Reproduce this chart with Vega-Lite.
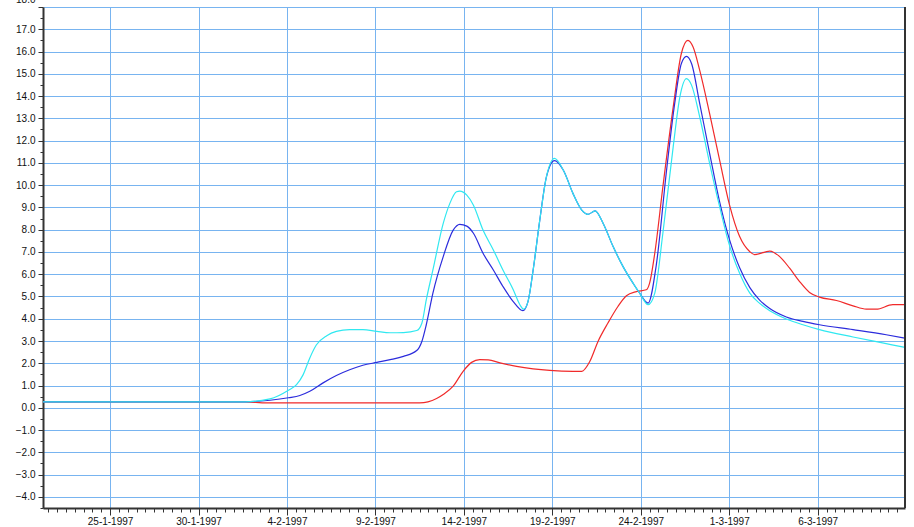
{
"$schema":"https://vega.github.io/schema/vega-lite/v6.json",
"width":862,"height":501,
"autosize":{"type":"none"},
"padding":{"left":43,"top":7,"right":9,"bottom":19},
"background":"white",
"config":{"view":{"stroke":null},"axis":{"labelFont":"Liberation Sans","labelFontSize":10,"labelColor":"#111111","titleFont":"Liberation Sans"}},
"data":{"values":[
{"s":"red","t":"1997-01-21T05:00:00Z","v":0.27},
{"s":"red","t":"1997-02-01T15:00:00Z","v":0.27},
{"s":"red","t":"1997-02-02T20:30:00Z","v":0.22},
{"s":"red","t":"1997-02-11T12:00:00Z","v":0.22},
{"s":"red","t":"1997-02-12T11:00:00Z","v":0.42},
{"s":"red","t":"1997-02-12T20:00:00Z","v":0.6},
{"s":"red","t":"1997-02-13T09:30:00Z","v":0.97},
{"s":"red","t":"1997-02-13T23:00:00Z","v":1.64},
{"s":"red","t":"1997-02-14T10:30:00Z","v":2.04},
{"s":"red","t":"1997-02-14T21:30:00Z","v":2.16},
{"s":"red","t":"1997-02-15T09:00:00Z","v":2.15},
{"s":"red","t":"1997-02-16T01:00:00Z","v":2.02},
{"s":"red","t":"1997-02-16T23:30:00Z","v":1.86},
{"s":"red","t":"1997-02-17T22:00:00Z","v":1.75},
{"s":"red","t":"1997-02-18T20:30:00Z","v":1.68},
{"s":"red","t":"1997-02-20T04:00:00Z","v":1.64},
{"s":"red","t":"1997-02-20T16:00:00Z","v":1.64},
{"s":"red","t":"1997-02-21T03:00:00Z","v":2.09},
{"s":"red","t":"1997-02-21T14:00:00Z","v":2.98},
{"s":"red","t":"1997-02-22T03:30:00Z","v":3.81},
{"s":"red","t":"1997-02-22T17:00:00Z","v":4.55},
{"s":"red","t":"1997-02-23T04:30:00Z","v":5.03},
{"s":"red","t":"1997-02-23T18:00:00Z","v":5.22},
{"s":"red","t":"1997-02-24T07:30:00Z","v":5.3},
{"s":"red","t":"1997-02-24T12:00:00Z","v":5.6},
{"s":"red","t":"1997-02-24T19:00:00Z","v":6.94},
{"s":"red","t":"1997-02-25T06:00:00Z","v":9.92},
{"s":"red","t":"1997-02-25T20:00:00Z","v":13.5},
{"s":"red","t":"1997-02-26T07:00:00Z","v":15.9},
{"s":"red","t":"1997-02-26T16:00:00Z","v":16.5},
{"s":"red","t":"1997-02-26T23:00:00Z","v":16.2},
{"s":"red","t":"1997-02-27T08:00:00Z","v":15.15},
{"s":"red","t":"1997-02-27T21:30:00Z","v":13.2},
{"s":"red","t":"1997-02-28T11:00:00Z","v":11.12},
{"s":"red","t":"1997-03-01T00:30:00Z","v":9.1},
{"s":"red","t":"1997-03-01T14:00:00Z","v":7.7},
{"s":"red","t":"1997-03-02T04:00:00Z","v":7.01},
{"s":"red","t":"1997-03-02T10:30:00Z","v":6.88},
{"s":"red","t":"1997-03-03T07:00:00Z","v":7.04},
{"s":"red","t":"1997-03-03T20:30:00Z","v":6.79},
{"s":"red","t":"1997-03-04T10:00:00Z","v":6.27},
{"s":"red","t":"1997-03-04T23:30:00Z","v":5.67},
{"s":"red","t":"1997-03-05T13:00:00Z","v":5.18},
{"s":"red","t":"1997-03-06T02:30:00Z","v":4.97},
{"s":"red","t":"1997-03-07T01:30:00Z","v":4.82},
{"s":"red","t":"1997-03-08T00:00:00Z","v":4.58},
{"s":"red","t":"1997-03-08T18:00:00Z","v":4.43},
{"s":"red","t":"1997-03-09T07:30:00Z","v":4.43},
{"s":"red","t":"1997-03-10T06:00:00Z","v":4.63},
{"s":"red","t":"1997-03-10T22:30:00Z","v":4.63},
{"s":"blue","t":"1997-01-21T05:00:00Z","v":0.27},
{"s":"blue","t":"1997-02-01T15:00:00Z","v":0.27},
{"s":"blue","t":"1997-02-03T01:00:00Z","v":0.34},
{"s":"blue","t":"1997-02-04T02:00:00Z","v":0.45},
{"s":"blue","t":"1997-02-04T17:30:00Z","v":0.55},
{"s":"blue","t":"1997-02-05T07:00:00Z","v":0.74},
{"s":"blue","t":"1997-02-06T01:00:00Z","v":1.12},
{"s":"blue","t":"1997-02-06T19:00:00Z","v":1.45},
{"s":"blue","t":"1997-02-07T13:00:00Z","v":1.71},
{"s":"blue","t":"1997-02-08T07:00:00Z","v":1.91},
{"s":"blue","t":"1997-02-09T02:00:00Z","v":2.04},
{"s":"blue","t":"1997-02-09T20:00:00Z","v":2.16},
{"s":"blue","t":"1997-02-10T14:00:00Z","v":2.31},
{"s":"blue","t":"1997-02-11T08:00:00Z","v":2.57},
{"s":"blue","t":"1997-02-11T15:00:00Z","v":2.98},
{"s":"blue","t":"1997-02-11T21:00:00Z","v":3.73},
{"s":"blue","t":"1997-02-12T06:00:00Z","v":5.15},
{"s":"blue","t":"1997-02-12T20:00:00Z","v":6.79},
{"s":"blue","t":"1997-02-13T09:30:00Z","v":7.98},
{"s":"blue","t":"1997-02-13T18:30:00Z","v":8.24},
{"s":"blue","t":"1997-02-14T04:00:00Z","v":8.16},
{"s":"blue","t":"1997-02-14T13:00:00Z","v":7.84},
{"s":"blue","t":"1997-02-15T02:00:00Z","v":6.94},
{"s":"blue","t":"1997-02-15T16:00:00Z","v":6.19},
{"s":"blue","t":"1997-02-16T05:00:00Z","v":5.45},
{"s":"blue","t":"1997-02-16T19:00:00Z","v":4.77},
{"s":"blue","t":"1997-02-17T08:00:00Z","v":4.36},
{"s":"blue","t":"1997-02-17T15:00:00Z","v":4.77},
{"s":"blue","t":"1997-02-17T22:00:00Z","v":6.19},
{"s":"blue","t":"1997-02-18T07:00:00Z","v":8.43},
{"s":"blue","t":"1997-02-18T16:00:00Z","v":10.37},
{"s":"blue","t":"1997-02-19T03:00:00Z","v":11.1},
{"s":"blue","t":"1997-02-19T15:00:00Z","v":10.67},
{"s":"blue","t":"1997-02-20T04:00:00Z","v":9.63},
{"s":"blue","t":"1997-02-20T16:00:00Z","v":8.88},
{"s":"blue","t":"1997-02-21T00:30:00Z","v":8.69},
{"s":"blue","t":"1997-02-21T10:00:00Z","v":8.84},
{"s":"blue","t":"1997-02-21T21:00:00Z","v":8.28},
{"s":"blue","t":"1997-02-22T10:30:00Z","v":7.24},
{"s":"blue","t":"1997-02-23T00:00:00Z","v":6.34},
{"s":"blue","t":"1997-02-23T13:30:00Z","v":5.6},
{"s":"blue","t":"1997-02-23T22:30:00Z","v":5.15},
{"s":"blue","t":"1997-02-24T10:00:00Z","v":4.7},
{"s":"blue","t":"1997-02-24T21:00:00Z","v":6.4},
{"s":"blue","t":"1997-02-25T11:00:00Z","v":10.67},
{"s":"blue","t":"1997-02-25T22:00:00Z","v":13.66},
{"s":"blue","t":"1997-02-26T07:00:00Z","v":15.45},
{"s":"blue","t":"1997-02-26T14:00:00Z","v":15.78},
{"s":"blue","t":"1997-02-26T21:00:00Z","v":15.45},
{"s":"blue","t":"1997-02-27T08:00:00Z","v":13.66},
{"s":"blue","t":"1997-02-27T21:30:00Z","v":11.42},
{"s":"blue","t":"1997-02-28T11:00:00Z","v":9.25},
{"s":"blue","t":"1997-03-01T00:30:00Z","v":7.54},
{"s":"blue","t":"1997-03-01T14:00:00Z","v":6.3},
{"s":"blue","t":"1997-03-02T04:00:00Z","v":5.4},
{"s":"blue","t":"1997-03-02T17:00:00Z","v":4.85},
{"s":"blue","t":"1997-03-03T07:00:00Z","v":4.46},
{"s":"blue","t":"1997-03-04T05:30:00Z","v":4.08},
{"s":"blue","t":"1997-03-05T04:00:00Z","v":3.88},
{"s":"blue","t":"1997-03-06T02:30:00Z","v":3.73},
{"s":"blue","t":"1997-03-08T00:00:00Z","v":3.51},
{"s":"blue","t":"1997-03-09T21:00:00Z","v":3.28},
{"s":"blue","t":"1997-03-10T22:30:00Z","v":3.13},
{"s":"cyan","t":"1997-01-21T05:00:00Z","v":0.27},
{"s":"cyan","t":"1997-02-01T15:00:00Z","v":0.27},
{"s":"cyan","t":"1997-02-03T01:00:00Z","v":0.4},
{"s":"cyan","t":"1997-02-04T02:00:00Z","v":0.79},
{"s":"cyan","t":"1997-02-04T13:00:00Z","v":1.04},
{"s":"cyan","t":"1997-02-04T22:00:00Z","v":1.49},
{"s":"cyan","t":"1997-02-05T07:00:00Z","v":2.24},
{"s":"cyan","t":"1997-02-05T16:00:00Z","v":2.83},
{"s":"cyan","t":"1997-02-06T06:00:00Z","v":3.24},
{"s":"cyan","t":"1997-02-06T19:00:00Z","v":3.43},
{"s":"cyan","t":"1997-02-07T13:00:00Z","v":3.51},
{"s":"cyan","t":"1997-02-08T07:00:00Z","v":3.51},
{"s":"cyan","t":"1997-02-09T02:00:00Z","v":3.43},
{"s":"cyan","t":"1997-02-09T20:00:00Z","v":3.37},
{"s":"cyan","t":"1997-02-10T14:00:00Z","v":3.38},
{"s":"cyan","t":"1997-02-11T08:00:00Z","v":3.47},
{"s":"cyan","t":"1997-02-11T15:00:00Z","v":3.8},
{"s":"cyan","t":"1997-02-11T21:00:00Z","v":4.85},
{"s":"cyan","t":"1997-02-12T06:00:00Z","v":6.19},
{"s":"cyan","t":"1997-02-12T20:00:00Z","v":8.28},
{"s":"cyan","t":"1997-02-13T05:00:00Z","v":9.18},
{"s":"cyan","t":"1997-02-13T14:00:00Z","v":9.7},
{"s":"cyan","t":"1997-02-13T18:30:00Z","v":9.73},
{"s":"cyan","t":"1997-02-14T04:00:00Z","v":9.55},
{"s":"cyan","t":"1997-02-14T13:00:00Z","v":9.1},
{"s":"cyan","t":"1997-02-15T02:00:00Z","v":7.98},
{"s":"cyan","t":"1997-02-15T16:00:00Z","v":7.09},
{"s":"cyan","t":"1997-02-16T05:00:00Z","v":6.19},
{"s":"cyan","t":"1997-02-16T19:00:00Z","v":5.3},
{"s":"cyan","t":"1997-02-17T04:00:00Z","v":4.63},
{"s":"cyan","t":"1997-02-17T09:00:00Z","v":4.43},
{"s":"cyan","t":"1997-02-17T15:00:00Z","v":4.77},
{"s":"cyan","t":"1997-02-17T22:00:00Z","v":6.19},
{"s":"cyan","t":"1997-02-18T07:00:00Z","v":8.43},
{"s":"cyan","t":"1997-02-18T16:00:00Z","v":10.37},
{"s":"cyan","t":"1997-02-19T03:00:00Z","v":11.2},
{"s":"cyan","t":"1997-02-19T15:00:00Z","v":10.67},
{"s":"cyan","t":"1997-02-20T04:00:00Z","v":9.63},
{"s":"cyan","t":"1997-02-20T16:00:00Z","v":8.88},
{"s":"cyan","t":"1997-02-21T00:30:00Z","v":8.69},
{"s":"cyan","t":"1997-02-21T10:00:00Z","v":8.84},
{"s":"cyan","t":"1997-02-21T21:00:00Z","v":8.28},
{"s":"cyan","t":"1997-02-22T10:30:00Z","v":7.24},
{"s":"cyan","t":"1997-02-23T00:00:00Z","v":6.34},
{"s":"cyan","t":"1997-02-23T13:30:00Z","v":5.6},
{"s":"cyan","t":"1997-02-23T22:30:00Z","v":5.15},
{"s":"cyan","t":"1997-02-24T10:00:00Z","v":4.63},
{"s":"cyan","t":"1997-02-24T19:00:00Z","v":5.15},
{"s":"cyan","t":"1997-02-25T06:00:00Z","v":7.84},
{"s":"cyan","t":"1997-02-25T20:00:00Z","v":11.72},
{"s":"cyan","t":"1997-02-26T05:00:00Z","v":13.95},
{"s":"cyan","t":"1997-02-26T14:00:00Z","v":14.78},
{"s":"cyan","t":"1997-02-26T21:00:00Z","v":14.48},
{"s":"cyan","t":"1997-02-27T08:00:00Z","v":13.06},
{"s":"cyan","t":"1997-02-27T21:30:00Z","v":10.97},
{"s":"cyan","t":"1997-02-28T11:00:00Z","v":9.03},
{"s":"cyan","t":"1997-03-01T00:30:00Z","v":7.28},
{"s":"cyan","t":"1997-03-01T14:00:00Z","v":6.05},
{"s":"cyan","t":"1997-03-02T04:00:00Z","v":5.15},
{"s":"cyan","t":"1997-03-02T17:00:00Z","v":4.7},
{"s":"cyan","t":"1997-03-03T07:00:00Z","v":4.36},
{"s":"cyan","t":"1997-03-04T05:30:00Z","v":3.99},
{"s":"cyan","t":"1997-03-05T04:00:00Z","v":3.73},
{"s":"cyan","t":"1997-03-06T02:30:00Z","v":3.51},
{"s":"cyan","t":"1997-03-08T00:00:00Z","v":3.18},
{"s":"cyan","t":"1997-03-09T21:00:00Z","v":2.88},
{"s":"cyan","t":"1997-03-10T22:30:00Z","v":2.71}
]},
"layer":[
{"mark":{"type":"line","interpolate":"monotone","strokeWidth":1.2},
 "encoding":{
  "x":{"field":"t","type":"temporal","scale":{"type":"utc","domain":[{"year":1997,"month":1,"date":21,"hours":5,"utc":true},{"year":1997,"month":3,"date":10,"hours":22,"minutes":30,"utc":true}]},
   "axis":{"orient":"bottom","title":null,"format":"%-d-%-m-%Y","values":[
     {"year":1997,"month":1,"date":25,"utc":true},{"year":1997,"month":1,"date":30,"utc":true},{"year":1997,"month":2,"date":4,"utc":true},
     {"year":1997,"month":2,"date":9,"utc":true},{"year":1997,"month":2,"date":14,"utc":true},{"year":1997,"month":2,"date":19,"utc":true},
     {"year":1997,"month":2,"date":24,"utc":true},{"year":1997,"month":3,"date":1,"utc":true},{"year":1997,"month":3,"date":6,"utc":true}],
    "tickSize":7,"tickColor":"#333333","domainColor":"#333333","domainWidth":2,"labelPadding":1,"labelFlush":false,"labelOverlap":false,
    "grid":true,"gridColor":"#78b4f0","gridWidth":1}},
  "y":{"field":"v","type":"quantitative","scale":{"domain":[-4.5,18],"nice":false,"zero":false},
   "axis":{"orient":"left","title":null,"format":".1f","values":[-4,-3,-2,-1,0,1,2,3,4,5,6,7,8,9,10,11,12,13,14,15,16,17,18],
    "tickSize":5,"tickColor":"#333333","domainColor":"#333333","domainWidth":2,"labelPadding":3,"labelFlush":false,"labelOverlap":false,
    "labelOffset":{"condition":{"test":"datum.value == 18","value":-8},"value":0},
    "grid":true,"gridColor":"#78b4f0","gridWidth":1}},
  "color":{"field":"s","type":"nominal","scale":{"domain":["red","blue","cyan"],"range":["#f02a2a","#2c2cdc","#30e8f0"]},"legend":null}
 }},
{"mark":{"type":"line","opacity":0},
 "encoding":{
  "x":{"field":"t","type":"temporal","axis":{"orient":"bottom","title":null,"labels":false,"domain":false,"grid":false,"tickSize":4,"tickColor":"#333333","values":[853848000000,853891200000,853934400000,853977600000,854020800000,854064000000,854107200000,854150400000,854193600000,854236800000,854280000000,854323200000,854366400000,854409600000,854452800000,854496000000,854539200000,854582400000,854625600000,854668800000,854712000000,854755200000,854798400000,854841600000,854884800000,854928000000,854971200000,855014400000,855057600000,855100800000,855144000000,855187200000,855230400000,855273600000,855316800000,855360000000,855403200000,855446400000,855489600000,855532800000,855576000000,855619200000,855662400000,855705600000,855748800000,855792000000,855835200000,855878400000,855921600000,855964800000,856008000000,856051200000,856094400000,856137600000,856180800000,856224000000,856267200000,856310400000,856353600000,856396800000,856440000000,856483200000,856526400000,856569600000,856612800000,856656000000,856699200000,856742400000,856785600000,856828800000,856872000000,856915200000,856958400000,857001600000,857044800000,857088000000,857131200000,857174400000,857217600000,857260800000,857304000000,857347200000,857390400000,857433600000,857476800000,857520000000,857563200000,857606400000,857649600000,857692800000,857736000000,857779200000,857822400000,857865600000,857908800000,857952000000,857995200000]}},
  "y":{"field":"v","type":"quantitative","axis":{"orient":"left","title":null,"labels":false,"domain":false,"grid":false,"values":[-4.5,-3.5,-2.5,-1.5,-0.5,0.5,1.5,2.5,3.5,4.5,5.5,6.5,7.5,8.5,9.5,10.5,11.5,12.5,13.5,14.5,15.5,16.5,17.5],"tickSize":3,"tickColor":"#333333"}},
  "detail":{"field":"s"}
 }},
{"mark":{"type":"rule","color":"#333333","strokeWidth":2},
 "encoding":{
  "x":{"datum":{"year":1997,"month":3,"date":10,"hours":22,"minutes":30,"utc":true},"type":"temporal","axis":null}
 }}
],
"resolve":{"axis":{"x":"independent","y":"independent"}}
}
